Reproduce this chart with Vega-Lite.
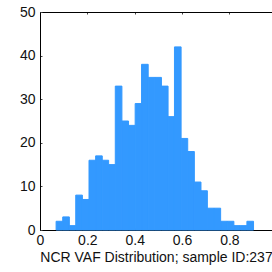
{
  "$schema": "https://vega.github.io/schema/vega-lite/v6.json",
  "autosize": "none",
  "width": 232,
  "height": 218,
  "padding": {"left": 40, "top": 12, "right": 0, "bottom": 42},
  "background": "white",
  "config": {
    "view": {"stroke": null},
    "font": "Liberation Sans",
    "axis": {"labelFont": "Liberation Sans", "titleFont": "Liberation Sans", "labelFontSize": 14, "titleFontSize": 14, "labelColor": "#111", "titleColor": "#111", "titleFontWeight": "normal", "domainColor": "black", "domainWidth": 1, "tickColor": "#444", "grid": false}
  },
  "data": {"values": [
    {"x0": 0.068, "x1": 0.096, "count": 2},
    {"x0": 0.096, "x1": 0.124, "count": 3},
    {"x0": 0.124, "x1": 0.151, "count": 1},
    {"x0": 0.151, "x1": 0.179, "count": 8},
    {"x0": 0.179, "x1": 0.207, "count": 7},
    {"x0": 0.207, "x1": 0.235, "count": 16},
    {"x0": 0.235, "x1": 0.263, "count": 17},
    {"x0": 0.263, "x1": 0.290, "count": 16},
    {"x0": 0.290, "x1": 0.318, "count": 15},
    {"x0": 0.318, "x1": 0.346, "count": 33},
    {"x0": 0.346, "x1": 0.374, "count": 25},
    {"x0": 0.374, "x1": 0.402, "count": 24},
    {"x0": 0.402, "x1": 0.429, "count": 29},
    {"x0": 0.429, "x1": 0.457, "count": 38},
    {"x0": 0.457, "x1": 0.485, "count": 35},
    {"x0": 0.485, "x1": 0.513, "count": 35},
    {"x0": 0.513, "x1": 0.541, "count": 33},
    {"x0": 0.541, "x1": 0.568, "count": 26},
    {"x0": 0.568, "x1": 0.596, "count": 42},
    {"x0": 0.596, "x1": 0.624, "count": 21},
    {"x0": 0.624, "x1": 0.652, "count": 18},
    {"x0": 0.652, "x1": 0.680, "count": 11},
    {"x0": 0.680, "x1": 0.707, "count": 9},
    {"x0": 0.707, "x1": 0.735, "count": 5},
    {"x0": 0.735, "x1": 0.763, "count": 5},
    {"x0": 0.763, "x1": 0.791, "count": 2},
    {"x0": 0.791, "x1": 0.819, "count": 2},
    {"x0": 0.819, "x1": 0.846, "count": 1},
    {"x0": 0.846, "x1": 0.874, "count": 1},
    {"x0": 0.874, "x1": 0.902, "count": 2}
  ]},
  "resolve": {"axis": {"x": "independent"}},
  "layer": [
    {
      "mark": {"type": "bar", "fill": "#3399ff", "stroke": "#3399ff", "strokeWidth": 1},
      "encoding": {
        "x": {"field": "x0", "type": "quantitative", "scale": {"domain": [0, 0.98], "nice": false, "zero": false}, "title": "NCR VAF Distribution; sample ID:237",
          "axis": {"values": [0, 0.2, 0.4, 0.6, 0.8], "format": "~g", "tickSize": -2, "labelPadding": 5, "titlePadding": 3, "labelFlush": false, "labelOverlap": false}},
        "x2": {"field": "x1"},
        "y": {"field": "count", "type": "quantitative", "scale": {"domain": [0, 50], "nice": false}, "title": null,
          "axis": {"values": [0, 10, 20, 30, 40, 50], "tickSize": -2, "labelPadding": 7, "labelFlush": false, "labelOverlap": false}},
        "y2": {"datum": 0}
      }
    },
    {
      "mark": {"type": "point", "opacity": 0},
      "encoding": {
        "x": {"field": "x0", "type": "quantitative", "title": null,
          "axis": {"orient": "top", "values": [0, 0.2, 0.4, 0.6, 0.8], "labels": false, "tickSize": -2}}
      }
    }
  ]
}
